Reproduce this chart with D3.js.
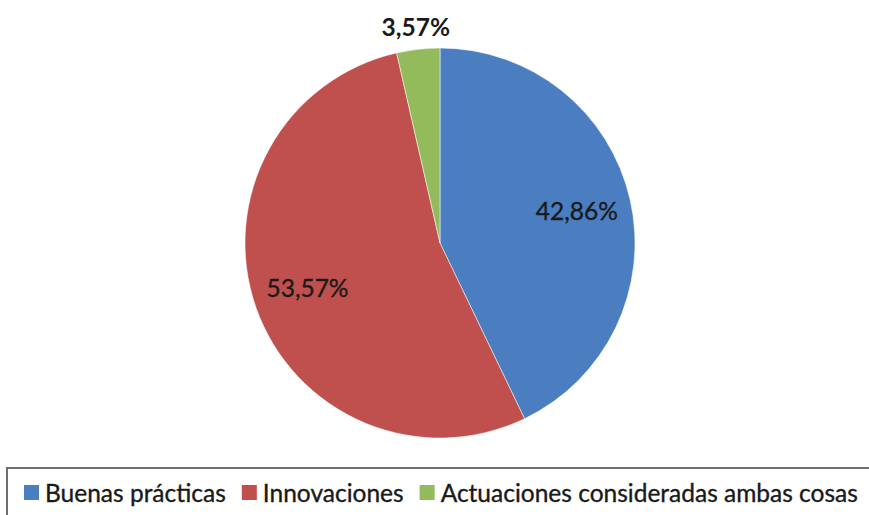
<!DOCTYPE html>
<html>
<head>
<meta charset="utf-8">
<script src="https://cdn.jsdelivr.net/npm/d3@7"></script>
<style>
  html, body { margin: 0; padding: 0; background: #ffffff; }
  svg { display: block; }
</style>
</head>
<body>
<svg id="chart" width="869" height="515"></svg>
<script>
// Categories, shares (%) and printed labels
const categories = ["Buenas prácticas", "Innovaciones", "Actuaciones consideradas ambas cosas"];
const shares = [42.86, 53.57, 3.57];
const valueLabels = ["42,86%", "53,57%", "3,57%"];
const colors = ["#4a7ec0", "#c0504d", "#93bb5b"];

const svg = d3.select("#chart");
const W = 869, H = 515;
const cx = 440, cy = 243, R = 195;
const fontFamily = "Lato, 'Open Sans', sans-serif";
const textColor = "#1a1a1a";

const pie = d3.pie().sort(null).value(d => d.value);
const arcs = pie(categories.map((c, i) => ({ name: c, value: shares[i], label: valueLabels[i], color: colors[i] })));

const arc = d3.arc().innerRadius(0).outerRadius(R);
const inLabelArc = d3.arc().innerRadius(R * 0.72).outerRadius(R * 0.72);
const outLabelArc = d3.arc().innerRadius(R + 21).outerRadius(R + 21);

const g = svg.append("g").attr("transform", `translate(${cx},${cy})`);

g.selectAll("path.slice")
  .data(arcs)
  .join("path")
  .attr("class", "slice")
  .attr("d", arc)
  .attr("fill", d => d.data.color)
  .attr("stroke", "#ffffff")
  .attr("stroke-opacity", 0.5)
  .attr("stroke-width", 1);

// Small slices get their label outside the pie, in bold
g.selectAll("text.value")
  .data(arcs)
  .join("text")
  .attr("class", "value")
  .attr("transform", d => {
    const small = d.data.value < 10;
    const [x, y] = (small ? outLabelArc : inLabelArc).centroid(d);
    return `translate(${x},${y})`;
  })
  .attr("text-anchor", "middle")
  .attr("dy", "0.33em")
  .attr("font-family", fontFamily)
  .attr("font-size", 24.5)
  .attr("font-weight", d => d.data.value < 10 ? 700 : 400)
  .attr("fill", textColor)
  .attr("stroke", textColor)
  .attr("stroke-width", d => d.data.value < 10 ? 0 : 0.35)
  .text(d => d.data.label);

// Legend box
const legendTop = 468;
svg.append("rect")
  .attr("x", 7).attr("y", legendTop)
  .attr("width", W + 10).attr("height", 60)
  .attr("fill", "#ffffff")
  .attr("stroke", "#6e6e6e")
  .attr("stroke-width", 2);

const legend = svg.append("g").attr("transform", `translate(24,${legendTop})`);
let xPos = 0;
categories.forEach((c, i) => {
  const item = legend.append("g").attr("transform", `translate(${xPos},0)`);
  item.append("rect")
    .attr("x", 0).attr("y", 17)
    .attr("width", 15).attr("height", 15)
    .attr("fill", colors[i]);
  const t = item.append("text")
    .attr("x", 21).attr("y", 34)
    .attr("font-family", fontFamily)
    .attr("font-size", 24.5)
    .attr("fill", textColor)
    .attr("stroke", textColor)
    .attr("stroke-width", 0.35)
    .text(c);
  xPos += 21 + t.node().getComputedTextLength() + 16;
});
</script>
</body>
</html>
